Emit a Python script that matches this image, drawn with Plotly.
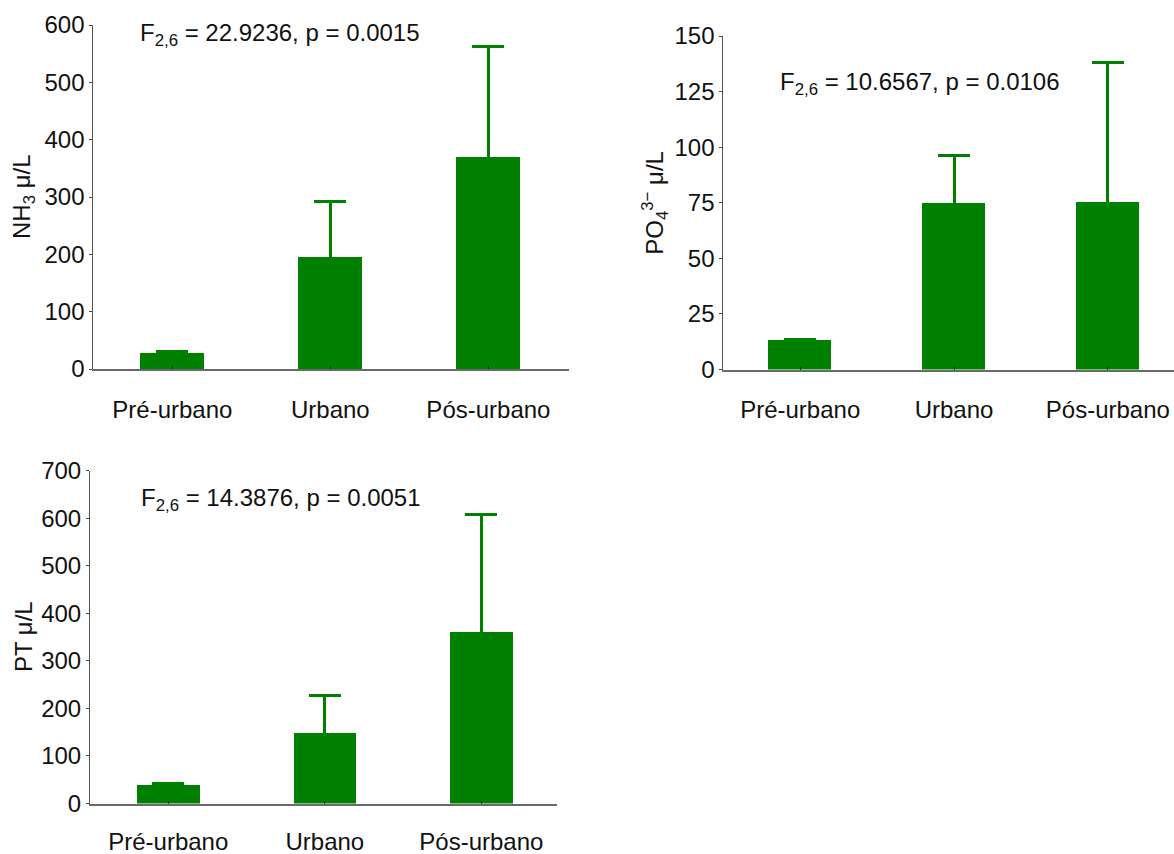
import plotly.graph_objects as go

# Sampling sites along the urban gradient
categories = ["Pré-urbano", "Urbano", "Pós-urbano"]

# Mean concentrations (µ/L) and standard deviation
nh3_mean = [28.5, 196, 370]
nh3_err = [1.5, 97, 192]

po4_mean = [13.1, 74.8, 75.5]
po4_err = [0.4, 21.4, 62.5]

pt_mean = [40.5, 148.7, 361]
pt_err = [2.5, 79.3, 247.8]

# ANOVA results shown on each panel
stats_text = [
    "F<sub>2,6</sub> = 22.9236, p = 0.0015",
    "F<sub>2,6</sub> = 10.6567, p = 0.0106",
    "F<sub>2,6</sub> = 14.3876, p = 0.0051",
]

y_titles = ["NH<sub>3</sub> μ/L", "PO<sub>4</sub><sup>3−</sup> μ/L", "PT μ/L"]

W, H = 1174, 854
GREEN = "#008000"
FONT = "Liberation Sans, Arial, sans-serif"
FS = 24


def px_x(v):
    return v / W


def px_y(v):
    return 1 - v / H


panels = [
    # (means, errors, x-domain px, y-domain px (top, bottom), y max, dtick, x range, bar width, title x px, label standoff)
    (nh3_mean, nh3_err, (93.3, 569), (25, 369), 600, 100, [-0.5, 2.51], 0.405, 23, 18),
    (po4_mean, po4_err, (723.3, 1174), (36, 369.5), 150, 25, [-0.5, 2.43], 0.41, 655, 18),
    (pt_mean, pt_err, (90, 556.5), (470.7, 803.5), 700, 100, [-0.5, 2.48], 0.40, 23, 16),
]

stats_pos = [(138, 34), (778, 83), (139, 499)]

fig = go.Figure()
annotations = []

for i, (means, errs, xd, yd, ymax, dtick, xr, bw, tx, stand) in enumerate(panels):
    ax = "" if i == 0 else str(i + 1)
    # error bars first (their lower half is hidden beneath the solid bars)
    fig.add_trace(go.Bar(
        x=categories,
        y=means,
        width=bw,
        marker=dict(color="rgba(0,0,0,0)", line=dict(width=0)),
        error_y=dict(type="data", array=errs, symmetric=True,
                     color=GREEN, thickness=3, width=16),
        xaxis="x" + ax,
        yaxis="y" + ax,
        showlegend=False,
        hoverinfo="skip",
    ))
    fig.add_trace(go.Bar(
        x=categories,
        y=means,
        width=bw,
        marker=dict(color=GREEN, line=dict(width=0)),
        xaxis="x" + ax,
        yaxis="y" + ax,
        showlegend=False,
    ))
    fig.update_layout(**{
        "xaxis" + ax: dict(
            domain=[px_x(xd[0]), px_x(xd[1])],
            anchor="y" + ax,
            range=xr,
            automargin=False,
            showline=True, linecolor="#6a6a6a", linewidth=1.5,
            ticks="inside", ticklen=3, tickcolor="#222", tickwidth=1,
            showgrid=False, zeroline=False,
            tickfont=dict(family=FONT, size=FS, color="#111"),
            ticklabelstandoff=stand,
        ),
        "yaxis" + ax: dict(
            domain=[px_y(yd[1]), px_y(yd[0])],
            anchor="x" + ax,
            range=[0, ymax],
            dtick=dtick,
            automargin=False,
            showline=True, linecolor="#555", linewidth=1,
            ticks="outside", ticklen=3, tickcolor="#444", tickwidth=1,
            showgrid=False, zeroline=False,
            tickfont=dict(family=FONT, size=FS, color="#111"),
        ),
    })
    annotations.append(dict(
        text=y_titles[i], xref="paper", yref="paper",
        x=px_x(tx), y=px_y((yd[0] + yd[1]) / 2),
        xanchor="center", yanchor="middle", textangle=-90, showarrow=False,
        font=dict(family=FONT, size=FS, color="#111"),
    ))
    sx, sy = stats_pos[i]
    annotations.append(dict(
        text=stats_text[i], xref="paper", yref="paper",
        x=px_x(sx), y=px_y(sy), xanchor="left", yanchor="middle", showarrow=False,
        font=dict(family=FONT, size=FS, color="#111"),
    ))

fig.update_layout(
    width=W, height=H,
    margin=dict(l=0, r=0, t=0, b=0),
    paper_bgcolor="white", plot_bgcolor="white",
    annotations=annotations,
    barmode="overlay",
    bargap=0,
)

fig.write_html("out.html")
